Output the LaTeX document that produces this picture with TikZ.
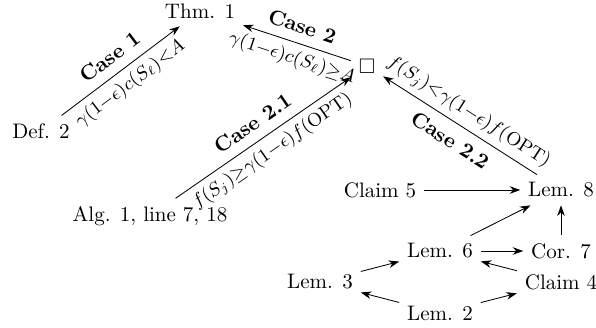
\documentclass[tikz,border=0pt]{standalone}
\usepackage{amssymb}
\usetikzlibrary{arrows.meta}
\begin{document}
\begin{tikzpicture}[x=0.476pt,y=-0.476pt,
  lbl/.style={inner sep=3.6pt},
  arr/.style={-{Stealth[length=5pt,width=3.6pt]}},
  case/.style={font=\bfseries, sloped, midway, inner sep=4.6pt},
  cond/.style={font=\fontsize{12.5}{14}\selectfont, sloped, midway, inner sep=3pt}]
\useasboundingbox (0,0) rectangle (596,327);
\node[lbl] (thm1) at (200,11) {Thm. 1};
\node[lbl] (def2) at (41,131) {Def. 2};
\node[lbl] (qed) at (367,66) {$\square$};
\node[lbl] (alg) at (150,216) {Alg. 1, line 7, 18};
\node[lbl] (cl5) at (380,190) {Claim 5};
\node[lbl] (lem8) at (561,190) {Lem. 8};
\node[lbl] (lem6) at (440,251) {Lem. 6};
\node[lbl] (cor7) at (561,251) {Cor. 7};
\node[lbl] (lem3) at (320,282) {Lem. 3};
\node[lbl] (cl4) at (561,282) {Claim 4};
\node[lbl] (lem2) at (440,313) {Lem. 2};
\draw[arr] (def2) -- node[case,above]{Case 1}
  node[cond,below]{$\scriptstyle\gamma(1-\epsilon)c(S_\ell)<A$} (thm1);
\draw[arr] (qed) -- node[case,above]{Case 2}
  node[cond,below]{$\scriptstyle\gamma(1-\epsilon)c(S_\ell)\geq A$} (thm1);
\draw[arr] (alg) -- node[case,above]{Case 2.1}
  node[cond,below]{$\scriptstyle f(S_j)\geq\gamma(1-\epsilon)f(\mathrm{OPT})$} (qed);
\draw[arr] (lem8) -- node[case,below]{Case 2.2}
  node[cond,above]{$\scriptstyle f(S_j)<\gamma(1-\epsilon)f(\mathrm{OPT})$} (qed);
\draw[arr] (cl5) -- (lem8);
\draw[arr] (lem6) -- (lem8);
\draw[arr] (cor7) -- (lem8);
\draw[arr] (lem6) -- (cor7);
\draw[arr] (cl4) -- (lem6);
\draw[arr] (lem3) -- (lem6);
\draw[arr] (lem2) -- (lem3);
\draw[arr] (lem2) -- (cl4);
\end{tikzpicture}
\end{document}
